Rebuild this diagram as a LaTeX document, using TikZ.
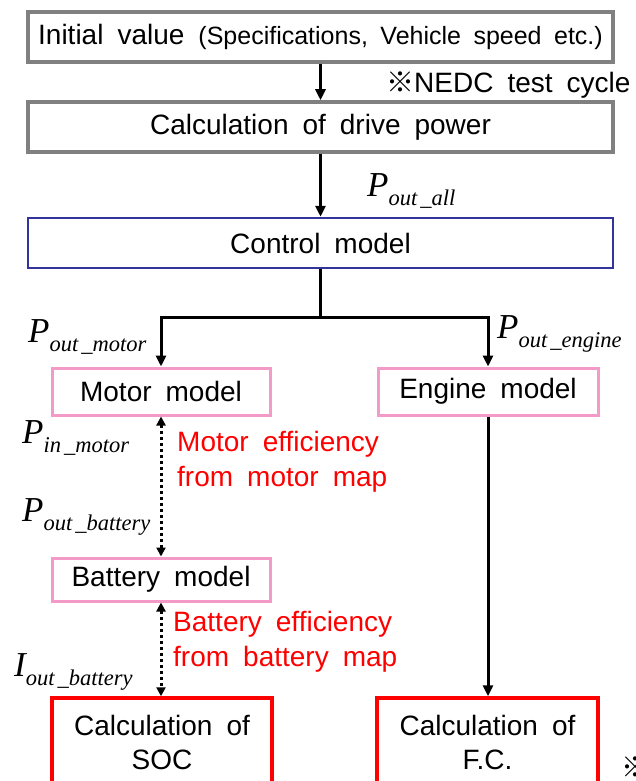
\documentclass[tikz,border=0pt]{standalone}
\usepackage{fontspec}
\setmainfont{Liberation Sans}
\newfontfamily\tmsfont{Liberation Serif}
\newfontfamily\cjkfont{Noto Sans CJK JP}
\usetikzlibrary{arrows.meta}
\definecolor{boxgray}{HTML}{808080}
\definecolor{navy}{HTML}{333399}
\definecolor{pinkb}{HTML}{F49AC8}
\definecolor{redb}{HTML}{FF0000}
\newcommand\bigtxt{\fontsize{28}{34}\selectfont\spaceskip=14pt\relax}
\newcommand\redsz{\fontsize{28}{35}\selectfont\spaceskip=14pt\relax}
\newcommand\midtxt{\fontsize{25}{30}\selectfont\spaceskip=12.5pt\relax}
\newcommand\varlab[2]{{\tmsfont\itshape\fontsize{35}{35}\selectfont #1}\raisebox{-9pt}{\tmsfont\itshape\fontsize{22.5}{22}\selectfont #2}}
\begin{document}
\begin{tikzpicture}[x=1pt,y=-1pt,
  box/.style={draw, fill=white, inner sep=0pt, align=center, font=\bigtxt},
  graybox/.style={box, draw=boxgray, line width=3.5pt, minimum width=585pt, minimum height=50pt},
  navybox/.style={box, draw=navy, line width=2.5pt, minimum width=585pt, minimum height=50pt},
  pinkbox/.style={box, draw=pinkb, line width=3pt},
  redbox/.style={box, draw=redb, line width=3.5pt, minimum height=88pt},
  arr/.style={draw=black, line width=3pt, -{Triangle[length=11pt,width=10pt]}},
  plain/.style={draw=black, line width=3pt},
  dotarr/.style={draw=black, line width=3pt, dash pattern=on 3.5pt off 2.5pt,
    {Triangle[length=9pt,width=9pt]}-{Triangle[length=9pt,width=9pt]}},
  redtxt/.style={text=redb, align=left, inner sep=0pt, font=\redsz},
  lab/.style={inner sep=0pt, anchor=base west}
]
\useasboundingbox (0,0) rectangle (635,781);
\fill[white] (0,0) rectangle (635,781);
\clip (0,0) rectangle (635,781);

\node[graybox] (init) at (320.5,37) {Initial value {\midtxt(Specifications, Vehicle speed etc.)}};
\node[graybox] (calc) at (320.5,127) {Calculation of drive power};
\node[navybox] (ctrl) at (320.5,243) {Control model};
\node[pinkbox, minimum width=218pt, minimum height=47pt] (motor) at (161,391.5) {Motor model};
\node[pinkbox, minimum width=220pt, minimum height=47pt] (engine) at (488,391.5) {Engine model};
\node[pinkbox, minimum width=218pt, minimum height=43pt] (batt) at (161,579.5) {Battery model};
\node[redbox, minimum width=220pt] (soc) at (162,742) {Calculation of\\SOC};
\node[redbox, minimum width=221pt] (fc) at (487.5,742) {Calculation of\\F.C.};

\node[lab, font=\bigtxt] (nedc) at (386,93) {{\cjkfont ※}NEDC test cycle};
\node[lab, font=\bigtxt] (note) at (621,777) {{\cjkfont ※}};

\node[lab] (pall) at (367,196) {\varlab{P}{out\kern3pt\_all}};
\node[lab] (pmot) at (28,342) {\varlab{P}{out\kern3pt\_motor}};
\node[lab] (peng) at (497,338) {\varlab{P}{out\kern3pt\_engine}};
\node[lab] (pin) at (22,443) {\varlab{P}{in\kern3pt\_motor}};
\node[lab] (pbat) at (22,521) {\varlab{P}{out\kern3pt\_battery}};
\node[lab] (ibat) at (14,676) {\varlab{I}{out\kern3pt\_battery}};

\node[redtxt, anchor=north west] (meff) at (177,431) {Motor efficiency\\from motor map};
\node[redtxt, anchor=north west] (beff) at (173,611) {Battery efficiency\\from battery map};

\coordinate (br) at (320.5,317);
\draw[arr] (init) -- (calc);
\draw[arr] (calc) -- (ctrl);
\draw[plain] (ctrl.south) -- (br);
\draw[arr] (br) -| (motor.north);
\draw[arr] (br) -| (engine.north);
\draw[dotarr] (motor.south) -- (batt.north);
\draw[dotarr] (batt.south) -- (batt.south |- soc.north);
\draw[arr] (engine.south) -- (engine.south |- fc.north);
\end{tikzpicture}
\end{document}
